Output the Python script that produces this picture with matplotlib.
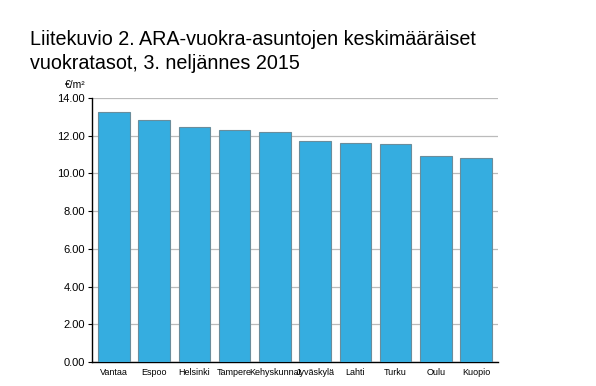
import matplotlib
matplotlib.use('Agg')
import matplotlib.pyplot as plt
import numpy as np

plt.rcParams['font.family'] = ['Liberation Sans', 'DejaVu Sans']

# Data
cities = ['Vantaa', 'Espoo', 'Helsinki', 'Tampere', 'Kehyskunnat',
          'Jyväskylä', 'Lahti', 'Turku', 'Oulu', 'Kuopio']
rents = [13.24, 12.81, 12.49, 12.28, 12.18, 11.70, 11.60, 11.56, 10.91, 10.80]
yticks = [0, 2, 4, 6, 8, 10, 12, 14]

fig = plt.figure(figsize=(5.96, 3.86), dpi=100)
ax = fig.add_axes([0.154, 0.062, 0.682, 0.684])

x = np.arange(len(cities))
ax.bar(x, rents, width=0.78, color='#35ADE0', edgecolor='#6A8D9C', linewidth=0.8, zorder=3)

ax.set_xlim(-0.55, len(cities) - 0.45)
ax.set_ylim(0, 14)
ax.set_yticks(yticks)
ax.set_yticklabels([f'{v:.2f}' for v in yticks], fontsize=8)
ax.set_xticks(x)
ax.set_xticklabels(cities, fontsize=6.5)
ax.tick_params(axis='x', length=0, pad=4)
ax.tick_params(axis='y', length=3, width=0.8, pad=2)

ax.grid(axis='y', color='#BBBBBB', linewidth=0.9, zorder=0)
for s in ['top', 'right']:
    ax.spines[s].set_visible(False)
ax.spines['left'].set_linewidth(1.0)
ax.spines['bottom'].set_linewidth(1.0)

# otsikko kahdella rivillä
fig.text(30 / 596, 1 - 45 / 386, 'Liitekuvio 2. ARA-vuokra-asuntojen keskimääräiset',
         fontsize=14.2, va='baseline', ha='left')
fig.text(30 / 596, 1 - 69 / 386, 'vuokratasot, 3. neljännes 2015',
         fontsize=14.2, va='baseline', ha='left')
fig.text(75 / 596, 1 - 88 / 386, '€/m²', fontsize=7.5, ha='center', va='baseline')

fig.savefig('out.png', dpi=100)
